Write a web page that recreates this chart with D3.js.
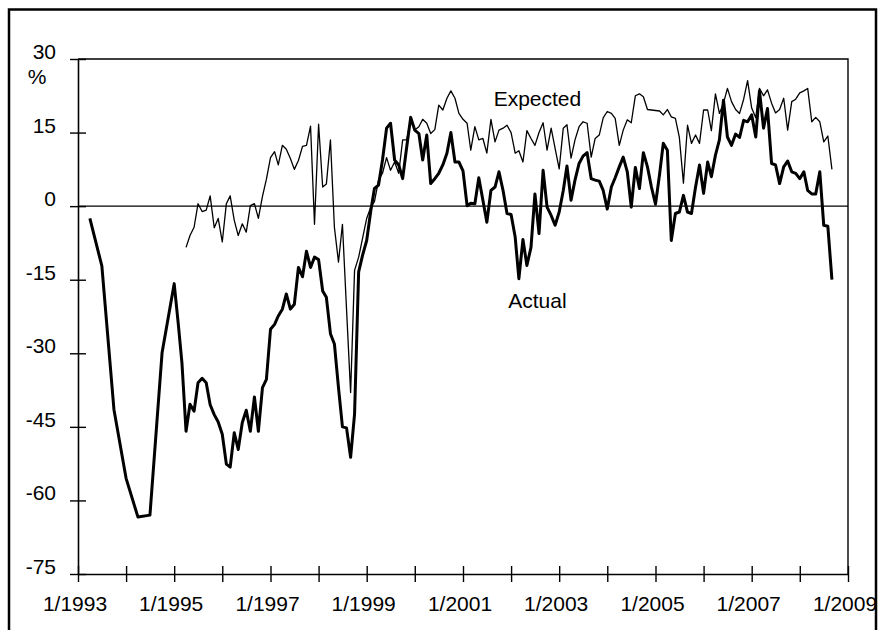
<!DOCTYPE html>
<html>
<head>
<meta charset="utf-8">
<script src="https://cdn.jsdelivr.net/npm/d3@7"></script>
<style>
  html, body { margin: 0; padding: 0; background: #fff; }
  svg { display: block; }
  text { font-family: "Liberation Sans", Arial, sans-serif; fill: #000; }
</style>
</head>
<body>
<svg id="chart" width="884" height="630"></svg>
<script>
// ---- Data (percent) ----
// Actual: quarterly observations first, then monthly from Feb 1995
const actualQuarterDates = ["1993-04", "1993-07", "1993-10", "1994-01", "1994-04", "1994-07", "1994-10", "1995-01"];
const actualQuarterValues = [-2.5, -12.2, -41.5, -55.5, -63.4, -63.0, -29.9, -15.8];

const actualMonthlyStart = "1995-02";
const actualMonthlyValues = [
  -24, -32,
  -45.9, -40.4, -41.8, -36, -35.1, -36, -40.5, -42.5, -44, -46.5,
  -52.6, -53.2, -46.2, -49.6, -44.1, -41.6, -45.9, -38.9, -45.9, -37,
  -35.3, -25.1, -24.1, -22.4, -21, -17.9, -21, -20, -12.5, -14.4,
  -9.2, -12.5, -10.4, -10.9, -17.3, -18.6, -26, -28.1, -37, -45,
  -45.2, -51.2, -42.4, -13.4, -10, -7, -1, 3.6, 4.3, 9.4,
  15.9, 16.9, 9.4, 8.4, 5.6, 12.1, 18.1, 15.5, 14.8, 9.4,
  14.5, 4.6, 5.6, 6.7, 8.4, 10.8, 15, 9, 9, 7.2,
  0.1, 0.6, 0.5, 5.8, 1.2, -3.3, 3.2, 3.9, 7, 3.2,
  -1.5, -1.7, -6.3, -14.8, -6.8, -12.1, -8.4, 2.5, -5.6, 7.3,
  -0.2, -1.9, -3.9, -1.2, 3.2, 8.2, 1.2, 5.3, 8.7, 10.2,
  10.9, 5.6, 5.3, 5.1, 3.2, -0.6, 3.9, 5.8, 8, 10,
  7, -0.2, 7.9, 3.6, 10.9, 8, 3.9, 0.4, 6.5, 12.8,
  11.4, -7, -1.5, -1.2, 2.2, -1.2, -1.5, 3.9, 8.4, 2.6,
  9, 6, 10.4, 13.5, 21.6, 14.1, 12.4, 14.7, 14, 17.5,
  17.2, 18.6, 14.1, 23.5, 15.9, 19.9, 8.7, 8.4, 4.6, 8,
  9.2, 7, 6.7, 5.6, 7, 3.2, 2.5, 2.5, 7, -3.9,
  -4.1, -15
];

// Expected: monthly from Apr 1995
const expectedStart = "1995-04";
const expectedValues = [
  -8.4, -6, -4.3, 0.5, -1.1, -0.8, 2.1, -4.4, -2.5, -7.3,
  0.5, 2.1, -2.9, -6, -3.6, -5.3, 0.1, 0.5, -2.5, 2,
  5.5, 9.9, 11.1, 8.4, 12.4, 11.6, 9.7, 7.5, 9.3, 12.2,
  12.4, 16.3, -3.7, 16.7, 3.9, 4.5, 13.5, -4.3, -11.4, -3.7,
  -21, -38, -13.1, -10.4, -6.5, -2.5, -0.2, 0.9, 5.3, 6.7,
  9.9, 7.3, 9, 6.7, 13.5, 13.5, 17.9, 15.5, 16.2, 17.7,
  16.9, 14.8, 15.6, 20.6, 19.6, 22, 23.5, 22, 18.9, 17.7,
  16.9, 11.4, 16.2, 13.5, 13.8, 10.8, 17.7, 13.1, 15.5, 15.9,
  16.5, 15, 10.8, 11.3, 9, 15.4, 13.8, 12.4, 15, 17,
  11.4, 15.9, 11.8, 7.6, 15.9, 16.6, 9.8, 13.5, 16.2, 17.2,
  16.9, 10, 13.8, 14.5, 18, 19.3, 18.9, 17.9, 12.4, 15.5,
  17.6, 17, 22.5, 22.9, 22.3, 19.7, 19.6, 19.5, 19.4, 18.6,
  19.7, 18.2, 17.9, 14, 4.7, 16.5, 12.8, 14.5, 12.8, 19.6,
  19.6, 15.4, 22.9, 18.9, 21, 24, 21.3, 19.7, 18.9, 21.8,
  25.6, 20, 18, 24, 22.5, 23.7, 21, 19, 19.7, 22,
  15.5, 21.3, 21.8, 23.1, 23.5, 24, 17.2, 18.1, 17.2, 13.1,
  14.3, 7.5
];

const yTickValues = [30, 15, 0, -15, -30, -45, -60, -75];
const xTickYears = d3.range(1993, 2010);        // a tick every year
const xLabelYears = [1993, 1995, 1997, 1999, 2001, 2003, 2005, 2007, 2009];
const seriesLabels = { expected: "Expected", actual: "Actual" };
const unitLabel = "%";

// ---- Build series ----
const parseM = d3.timeParse("%Y-%m");
function monthly(start, values) {
  const s = parseM(start);
  return values.map((v, i) => ({ date: d3.timeMonth.offset(s, i), value: v }));
}
const actual = actualQuarterDates.map((d, i) => ({ date: parseM(d), value: actualQuarterValues[i] }))
  .concat(monthly(actualMonthlyStart, actualMonthlyValues));
const expected = monthly(expectedStart, expectedValues);

// ---- Layout ----
const svg = d3.select("#chart");
const plotL = 78, plotR = 848, plotT = 59, plotB = 574;
const fontSize = 21;

const x = d3.scaleTime()
  .domain([new Date(1993, 0, 1), new Date(2009, 0, 1)])
  .range([plotL, plotR]);
const y = d3.scaleLinear().domain([-75, 30]).range([plotB, plotT]);

// Outer figure border (top, left, right)
svg.append("path")
  .attr("d", "M9,640 L9,9.5 L876,9.5 L876,640")
  .attr("fill", "none").attr("stroke", "#000").attr("stroke-width", 2.5);

// Plot frame (top and right)
svg.append("path")
  .attr("d", `M${plotL},${plotT} L${plotR},${plotT} L${plotR},${plotB}`)
  .attr("fill", "none").attr("stroke", "#000").attr("stroke-width", 1.4);

// Zero line
svg.append("line")
  .attr("x1", plotL).attr("x2", plotR)
  .attr("y1", y(0)).attr("y2", y(0))
  .attr("stroke", "#000").attr("stroke-width", 1.2);

// Y axis
const yAxis = d3.axisLeft(y).tickValues(yTickValues).tickSizeInner(8).tickSizeOuter(0).tickFormat("");
const gy = svg.append("g").attr("transform", `translate(${plotL},0)`).call(yAxis);
gy.select(".domain").attr("stroke", "#000").attr("stroke-width", 1.6);
gy.selectAll(".tick line").attr("x1", -8).attr("x2", 8).attr("stroke", "#000").attr("stroke-width", 1.4);
svg.append("g").selectAll("text").data(yTickValues).join("text")
  .attr("x", 56).attr("y", d => y(d))
  .attr("text-anchor", "end")
  .attr("font-size", fontSize)
  .text(d => d);
svg.append("text").attr("x", 37).attr("y", 84).attr("text-anchor", "middle")
  .attr("font-size", fontSize).text(unitLabel);

// X axis
const xAxis = d3.axisBottom(x)
  .tickValues(xTickYears.map(yr => new Date(yr, 0, 1)))
  .tickSizeInner(8).tickSizeOuter(0).tickFormat("");
const gx = svg.append("g").attr("transform", `translate(0,${plotB})`).call(xAxis);
gx.select(".domain").attr("stroke", "#000").attr("stroke-width", 1.6);
gx.selectAll(".tick line").attr("y1", -8).attr("y2", 8).attr("stroke", "#000").attr("stroke-width", 1.4);
svg.append("g").selectAll("text").data(xLabelYears).join("text")
  .attr("x", d => x(new Date(d, 0, 1)) - 3)
  .attr("y", 611)
  .attr("text-anchor", "middle")
  .attr("font-size", fontSize)
  .text(d => "1/" + d);

// Lines
const line = d3.line().x(d => x(d.date)).y(d => y(d.value));
svg.append("path").datum(expected)
  .attr("d", line).attr("fill", "none")
  .attr("stroke", "#000").attr("stroke-width", 1.3).attr("stroke-linejoin", "round");
svg.append("path").datum(actual)
  .attr("d", line).attr("fill", "none")
  .attr("stroke", "#000").attr("stroke-width", 3).attr("stroke-linejoin", "round");

// Series labels
svg.append("text").attr("x", x(new Date(2002, 6, 20))).attr("y", 106)
  .attr("text-anchor", "middle").attr("font-size", fontSize).text(seriesLabels.expected);
svg.append("text").attr("x", x(new Date(2002, 6, 20))).attr("y", 308)
  .attr("text-anchor", "middle").attr("font-size", fontSize).text(seriesLabels.actual);
</script>
</body>
</html>
